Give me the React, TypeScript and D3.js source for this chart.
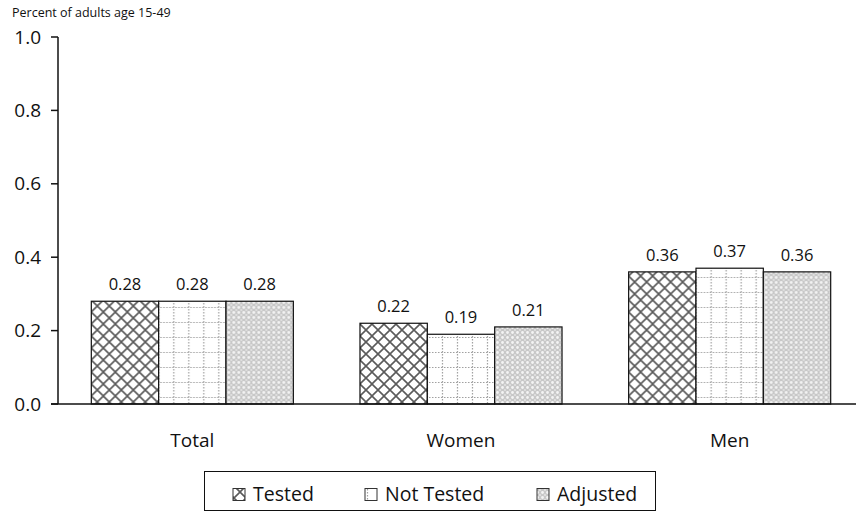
import React from 'react';
import * as d3 from 'd3';

const categories = ['Total', 'Women', 'Men'];
const seriesNames = ['Tested', 'Not Tested', 'Adjusted'];
const tested = [0.28, 0.22, 0.36];
const notTested = [0.28, 0.19, 0.37];
const adjusted = [0.28, 0.21, 0.36];
const yTicks = [0, 0.2, 0.4, 0.6, 0.8, 1.0];

const W = 856;
const H = 519;
const FONT = '"Open Sans", Lato, sans-serif';

const patternIds = ['pat-tested', 'pat-not', 'pat-adj'];

const App: React.FC = () => {
  const values = [tested, notTested, adjusted];

  const x0 = d3.scaleBand<string>()
    .domain(categories)
    .range([58, 864])
    .paddingInner(0.248)
    .paddingOuter(0.124);

  const x1 = d3.scaleBand<string>()
    .domain(seriesNames)
    .range([0, x0.bandwidth()]);

  const y = d3.scaleLinear().domain([0, 1]).range([404, 37]);

  return (
    <svg width={W} height={H} style={{ position: 'absolute', left: 0, top: 0, background: '#fff' }}>
      <defs>
        {/* crosshatch */}
        <pattern id="pat-tested" patternUnits="userSpaceOnUse" width={12} height={12}>
          <rect width={12} height={12} fill="#fff" />
          <path d="M0,0 L12,12 M12,0 L0,12" stroke="#5a5a5a" strokeWidth={1.6} />
        </pattern>
        {/* dotted grid */}
        <pattern id="pat-not" patternUnits="userSpaceOnUse" width={15} height={15}>
          <rect width={15} height={15} fill="#fff" />
          <path d="M7.5,0 L7.5,15 M0,7.5 L15,7.5" stroke="#a0a0a0" strokeWidth={1.2} strokeDasharray="1.5,1.5" />
        </pattern>
        {/* fine dots */}
        <pattern id="pat-adj" patternUnits="userSpaceOnUse" width={5} height={5}>
          <rect width={5} height={5} fill="#c8c8c8" />
          <circle cx={2.5} cy={2.5} r={1.4} fill="#f4f4f4" />
          <circle cx={0} cy={0} r={0.9} fill="#e8e8e8" />
          <circle cx={5} cy={0} r={0.9} fill="#e8e8e8" />
          <circle cx={0} cy={5} r={0.9} fill="#e8e8e8" />
          <circle cx={5} cy={5} r={0.9} fill="#e8e8e8" />
        </pattern>
      </defs>

      <text x={12} y={17} fontSize={12.5} fontFamily={FONT} fill="#111">Percent of adults age 15-49</text>

      {/* bars */}
      {categories.map((c, ci) => (
        <g key={c} transform={`translate(${x0(c)},0)`}>
          {seriesNames.map((s, si) => {
            const v = values[si][ci];
            const bx = x1(s) as number;
            return (
              <g key={s}>
                <rect
                  x={bx}
                  y={y(v)}
                  width={x1.bandwidth()}
                  height={y(0) - y(v)}
                  fill={`url(#${patternIds[si]})`}
                  stroke="#111"
                  strokeWidth={1.2}
                />
                <text
                  x={bx + x1.bandwidth() / 2}
                  y={y(v) - 11}
                  textAnchor="middle"
                  fontSize={16.5}
                  fontFamily={FONT}
                  fill="#111"
                >
                  {v.toFixed(2)}
                </text>
              </g>
            );
          })}
          <text
            x={x0.bandwidth() / 2}
            y={447}
            textAnchor="middle"
            fontSize={19}
            fontFamily={FONT}
            fill="#111"
          >
            {c}
          </text>
        </g>
      ))}

      {/* axes */}
      <line x1={58} x2={58} y1={y(1)} y2={y(0)} stroke="#111" strokeWidth={1.5} />
      <line x1={51} x2={W} y1={y(0)} y2={y(0)} stroke="#111" strokeWidth={1.5} />
      {yTicks.map(t => (
        <g key={t}>
          <line x1={51} x2={58} y1={y(t)} y2={y(t)} stroke="#111" strokeWidth={1.5} />
          <text x={41} y={y(t)} dy="0.35em" textAnchor="end" fontSize={19} fontFamily={FONT} fill="#111">
            {t.toFixed(1)}
          </text>
        </g>
      ))}

      {/* legend */}
      <rect x={204.5} y={471.5} width={451} height={39} fill="#fff" stroke="#111" strokeWidth={1} />
      {seriesNames.map((s, i) => {
        const lx = [233, 365, 537][i];
        return (
          <g key={s}>
            <rect x={lx} y={488.5} width={12} height={12} fill={`url(#${patternIds[i]})`} stroke="#333" strokeWidth={1} />
            <text x={lx + 20} y={501} fontSize={19.5} fontFamily={FONT} fill="#111">{s}</text>
          </g>
        );
      })}
    </svg>
  );
};

export default App;
